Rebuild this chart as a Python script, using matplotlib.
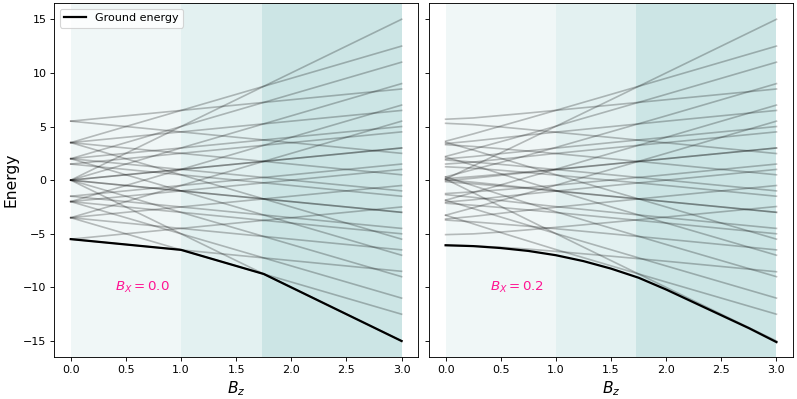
import numpy as np
import matplotlib
matplotlib.use("Agg")
import matplotlib.pyplot as plt

# --- data ---
# left panel (Bx = 0): straight levels, value at Bz=0 and at Bz=3
levels_bz0 = [0, 0,
              3.5, 2, 0, -2, -3.5,
              3.5, 2, 0, -2, -3.5,
              5.5, 3.5, 2, 1.5, 0, 0, -1.5, -2, -3.5, -5.5,
              5.5, 3.5, 2, 1.5, 0, 0, -1.5, -2, -3.5, -5.5]
levels_bz3 = [15, -15,
              12.5, 11, 9, 7, 5.5,
              -5.5, -7, -9, -11, -12.5,
              8.5, 6.5, 5, 4.5, 3, 3, 1.5, 1, -0.5, -2.5,
              2.5, 0.5, -1, -1.5, -3, -3, -4.5, -5, -6.5, -8.5]
ground_bz_bx0 = [0, 1.0, 1.75, 3.0]
ground_bx0 = [-5.5, -6.5, -8.75, -15.0]

# right panel (Bx = 0.2): levels sampled on a Bz grid
bz_grid = [0, 0.25, 0.5, 0.75, 1.0, 1.5, 2.0, 2.5, 3.0]
levels_bx02 = [
    [0.1, 1.33, 2.55, 3.78, 5.02, 7.5, 10.0, 12.5, 15.0],
    [0.1, -1.17, -2.45, -3.72, -4.99, -7.5, -10.0, -12.5, -15.0],
    [3.63, 4.31, 5.04, 5.77, 6.51, 8.0, 9.5, 11.0, 12.5],
    [3.53, 2.81, 2.04, 1.27, 0.51, -1.0, -2.5, -4.0, -5.5],
    [2.21, 2.89, 3.59, 4.30, 5.03, 6.51, 8.0, 9.5, 11.0],
    [2.15, 1.39, 0.59, -0.20, -0.97, -2.49, -4.0, -5.5, -7.0],
    [0.3, 0.99, 1.65, 2.34, 3.05, 4.52, 6.0, 7.5, 9.0],
    [0.3, -0.51, -1.35, -2.16, -2.95, -4.48, -6.0, -7.5, -9.0],
    [-1.87, -1.15, -0.44, 0.29, 1.02, 2.51, 4.0, 5.5, 7.0],
    [-1.87, -2.65, -3.44, -4.21, -4.98, -6.49, -8.0, -9.5, -11.0],
    [-3.27, -2.57, -1.89, -1.18, -0.47, 1.01, 2.5, 4.0, 5.5],
    [-3.27, -4.07, -4.89, -5.68, -6.47, -7.99, -9.5, -11.0, -12.5],
    [5.68, 5.80, 6.03, 6.26, 6.51, 7.0, 7.5, 8.0, 8.5],
    [5.30, 5.18, 4.96, 4.72, 4.47, 3.98, 3.48, 2.98, 2.48],
    [3.41, 3.65, 3.93, 4.21, 4.48, 4.99, 5.5, 6.0, 6.5],
    [3.31, 3.14, 2.93, 2.71, 2.48, 1.99, 1.5, 1.0, 0.5],
    [1.98, 2.20, 2.47, 2.73, 2.99, 3.5, 4.0, 4.5, 5.0],
    [1.88, 1.69, 1.47, 1.23, 0.99, 0.5, 0.0, -0.5, -1.0],
    [1.5, 1.68, 1.96, 2.22, 2.49, 3.0, 3.5, 4.0, 4.5],
    [1.25, 1.12, 0.92, 0.70, 0.47, -0.02, -0.5, -1.0, -1.5],
    [0.14, 0.33, 0.55, 0.78, 1.01, 1.5, 2.0, 2.5, 3.0],
    [0.04, -0.19, -0.45, -0.72, -0.99, -1.5, -2.0, -2.5, -3.0],
    [-0.05, 0.18, 0.45, 0.72, 0.98, 1.49, 2.0, 2.5, 3.0],
    [-0.15, -0.34, -0.55, -0.78, -1.02, -1.51, -2.0, -2.5, -3.0],
    [-1.25, -1.09, -0.90, -0.69, -0.47, 0.01, 0.5, 1.0, 1.5],
    [-1.35, -1.60, -1.90, -2.19, -2.47, -2.99, -3.5, -4.0, -4.5],
    [-2.05, -1.83, -1.55, -1.28, -1.02, -0.51, 0.0, 0.5, 1.0],
    [-2.15, -2.34, -2.55, -2.78, -3.02, -3.51, -4.0, -4.5, -5.0],
    [-3.62, -3.38, -3.09, -2.80, -2.53, -2.01, -1.5, -1.0, -0.5],
    [-3.72, -3.89, -4.09, -4.30, -4.53, -5.01, -5.5, -6.0, -6.5],
    [-5.08, -5.01, -4.84, -4.63, -4.40, -3.93, -3.44, -2.95, -2.46],
    [-6.08, -6.13, -6.26, -6.43, -6.64, -7.09, -7.56, -8.05, -8.54],
]
ground_bz_bx02 = [0, 0.25, 0.5, 0.75, 1.0, 1.25, 1.5, 1.75, 2.0, 2.25, 2.5, 2.75, 3.0]
ground_bx02 = [-6.07, -6.15, -6.33, -6.6, -7.0, -7.55, -8.25, -9.1, -10.2, -11.4, -12.6, -13.8, -15.1]

# shaded Bz regions
region_edges = [0, 1.0, 1.73, 3.0]
region_alpha = [0.06, 0.11, 0.2]

fig, axes = plt.subplots(1, 2, figsize=(797 / 80, 399 / 80), dpi=80, sharey=True)
fig.subplots_adjust(left=0.068, right=0.995, bottom=0.105, top=0.992, wspace=0.03)

for ax in axes:
    for i in range(len(region_alpha)):
        ax.axvspan(region_edges[i], region_edges[i + 1], color='teal',
                   alpha=region_alpha[i], lw=0)

# left panel
ax = axes[0]
for e0, e3 in zip(levels_bz0, levels_bz3):
    ax.plot([0, 3], [e0, e3], color='k', alpha=0.25, lw=1.5)
ax.plot(ground_bz_bx0, ground_bx0, color='k', lw=2, label='Ground energy')
ax.text(0.4, -10, '$B_X = 0.0$', color='#ff1493', fontsize=12, va='center')
ax.legend(loc='upper left', fontsize=10)
ax.set_ylabel('Energy', fontsize=14)

# right panel
ax = axes[1]
for row in levels_bx02:
    ax.plot(bz_grid, row, color='k', alpha=0.25, lw=1.5)
ax.plot(ground_bz_bx02, ground_bx02, color='k', lw=2)
ax.text(0.4, -10, '$B_X = 0.2$', color='#ff1493', fontsize=12, va='center')

for ax in axes:
    ax.set_xlabel('$B_z$', fontsize=14)
    ax.set_xlim(-0.15, 3.15)
    ax.set_ylim(-16.5, 16.5)
    ax.set_xticks(np.arange(0, 3.01, 0.5))
    ax.set_yticks([-15, -10, -5, 0, 5, 10, 15])

fig.savefig('out.png', dpi=80)
